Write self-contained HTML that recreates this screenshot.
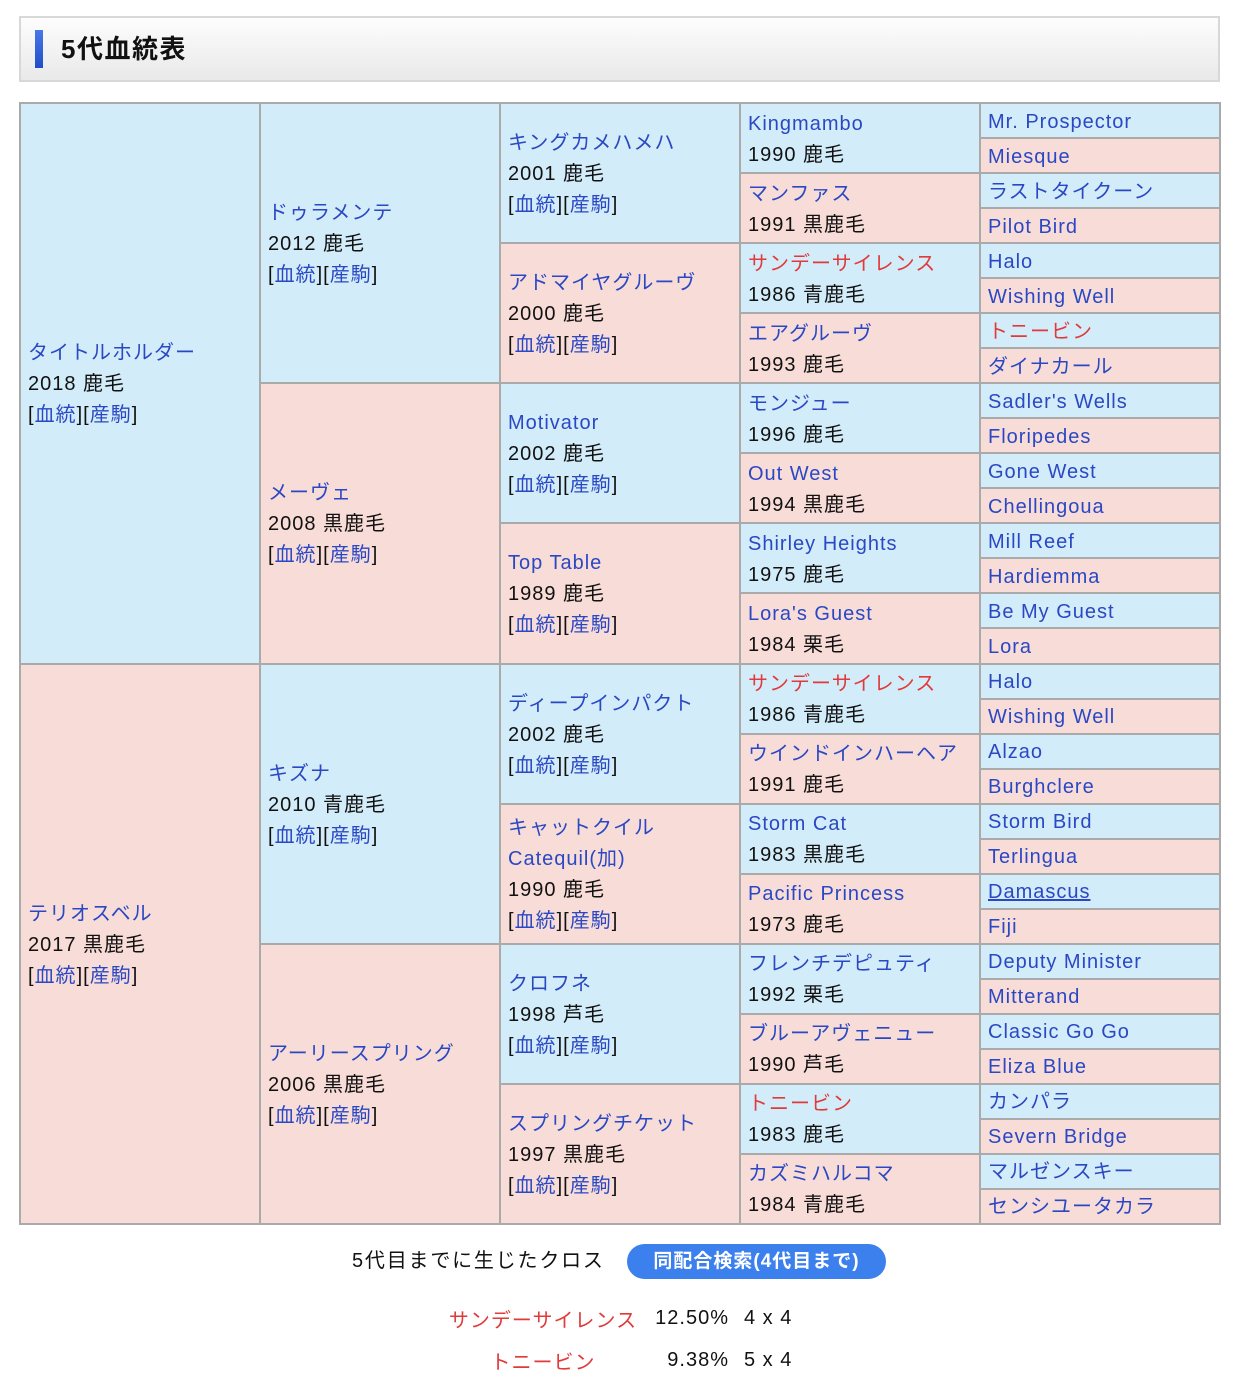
<!DOCTYPE html>
<html><head><meta charset="utf-8">
<style>
*{margin:0;padding:0;box-sizing:border-box}
body{width:1245px;height:1378px;background:#fff;font-family:"Liberation Sans","Noto Sans CJK JP",sans-serif;color:#111;position:relative;overflow:hidden;letter-spacing:1px}
.hd{position:absolute;left:19px;top:16px;width:1201px;height:66px;border:2px solid #d8d8d8;background:linear-gradient(#fdfdfd,#e9e9e9)}
.hd .bar{position:absolute;left:14px;top:12px;width:8px;height:38px;background:linear-gradient(#4a78e8,#1f4fc8)}
.hd .t{position:absolute;left:40px;top:15px;font-size:26px;font-weight:bold;color:#111;line-height:32px;letter-spacing:1.5px}
.g{position:absolute;left:19px;top:102px;width:1202px;height:1123px;background:#aaa;padding:2px;display:grid;gap:2px;grid-template-columns:repeat(5,1fr);grid-template-rows:repeat(32,1fr)}
.g>div{display:flex;flex-direction:column;justify-content:center;padding-left:7px;padding-top:3px;font-size:20px;line-height:31px;white-space:nowrap;overflow:hidden}
.b{background:#d3ecf9}.p{background:#f8dcd7}
.n{color:#2a48c4}.r{color:#e03a3a}
.l{color:#2a48c4}
.u{text-decoration:underline}
.cr{position:absolute;left:352px;top:1246px;font-size:20px;line-height:30px;letter-spacing:1.8px}
.btn{position:absolute;left:627px;top:1244px;width:259px;height:35px;border-radius:18px;background:#3c80ee;color:#fff;font-size:19px;font-weight:bold;text-align:center;line-height:35px}
table.x{position:absolute;left:440px;top:1297px;border-collapse:collapse;font-size:20px}
table.x td{height:42px;padding:0}
</style></head><body>
<div class="hd"><div class="bar"></div><div class="t">5代血統表</div></div>
<div class="g">
<div class="b" style="grid-column:1;grid-row:1/span 16"><span class="n">タイトルホルダー</span><span>2018 鹿毛</span><span>[<span class="l">血統</span>][<span class="l">産駒</span>]</span></div>
<div class="p" style="grid-column:1;grid-row:17/span 16"><span class="n">テリオスベル</span><span>2017 黒鹿毛</span><span>[<span class="l">血統</span>][<span class="l">産駒</span>]</span></div>

<div class="b" style="grid-column:2;grid-row:1/span 8"><span class="n">ドゥラメンテ</span><span>2012 鹿毛</span><span>[<span class="l">血統</span>][<span class="l">産駒</span>]</span></div>
<div class="p" style="grid-column:2;grid-row:9/span 8"><span class="n">メーヴェ</span><span>2008 黒鹿毛</span><span>[<span class="l">血統</span>][<span class="l">産駒</span>]</span></div>
<div class="b" style="grid-column:2;grid-row:17/span 8"><span class="n">キズナ</span><span>2010 青鹿毛</span><span>[<span class="l">血統</span>][<span class="l">産駒</span>]</span></div>
<div class="p" style="grid-column:2;grid-row:25/span 8"><span class="n">アーリースプリング</span><span>2006 黒鹿毛</span><span>[<span class="l">血統</span>][<span class="l">産駒</span>]</span></div>

<div class="b" style="grid-column:3;grid-row:1/span 4"><span class="n">キングカメハメハ</span><span>2001 鹿毛</span><span>[<span class="l">血統</span>][<span class="l">産駒</span>]</span></div>
<div class="p" style="grid-column:3;grid-row:5/span 4"><span class="n">アドマイヤグルーヴ</span><span>2000 鹿毛</span><span>[<span class="l">血統</span>][<span class="l">産駒</span>]</span></div>
<div class="b" style="grid-column:3;grid-row:9/span 4"><span class="n">Motivator</span><span>2002 鹿毛</span><span>[<span class="l">血統</span>][<span class="l">産駒</span>]</span></div>
<div class="p" style="grid-column:3;grid-row:13/span 4"><span class="n">Top Table</span><span>1989 鹿毛</span><span>[<span class="l">血統</span>][<span class="l">産駒</span>]</span></div>
<div class="b" style="grid-column:3;grid-row:17/span 4"><span class="n">ディープインパクト</span><span>2002 鹿毛</span><span>[<span class="l">血統</span>][<span class="l">産駒</span>]</span></div>
<div class="p" style="grid-column:3;grid-row:21/span 4"><span class="n">キャットクイル</span><span class="l">Catequil(加)</span><span>1990 鹿毛</span><span>[<span class="l">血統</span>][<span class="l">産駒</span>]</span></div>
<div class="b" style="grid-column:3;grid-row:25/span 4"><span class="n">クロフネ</span><span>1998 芦毛</span><span>[<span class="l">血統</span>][<span class="l">産駒</span>]</span></div>
<div class="p" style="grid-column:3;grid-row:29/span 4"><span class="n">スプリングチケット</span><span>1997 黒鹿毛</span><span>[<span class="l">血統</span>][<span class="l">産駒</span>]</span></div>

<div class="b" style="grid-column:4;grid-row:1/span 2"><span class="n">Kingmambo</span><span>1990 鹿毛</span></div>
<div class="p" style="grid-column:4;grid-row:3/span 2"><span class="n">マンファス</span><span>1991 黒鹿毛</span></div>
<div class="b" style="grid-column:4;grid-row:5/span 2"><span class="r">サンデーサイレンス</span><span>1986 青鹿毛</span></div>
<div class="p" style="grid-column:4;grid-row:7/span 2"><span class="n">エアグルーヴ</span><span>1993 鹿毛</span></div>
<div class="b" style="grid-column:4;grid-row:9/span 2"><span class="n">モンジュー</span><span>1996 鹿毛</span></div>
<div class="p" style="grid-column:4;grid-row:11/span 2"><span class="n">Out West</span><span>1994 黒鹿毛</span></div>
<div class="b" style="grid-column:4;grid-row:13/span 2"><span class="n">Shirley Heights</span><span>1975 鹿毛</span></div>
<div class="p" style="grid-column:4;grid-row:15/span 2"><span class="n">Lora's Guest</span><span>1984 栗毛</span></div>
<div class="b" style="grid-column:4;grid-row:17/span 2"><span class="r">サンデーサイレンス</span><span>1986 青鹿毛</span></div>
<div class="p" style="grid-column:4;grid-row:19/span 2"><span class="n">ウインドインハーヘア</span><span>1991 鹿毛</span></div>
<div class="b" style="grid-column:4;grid-row:21/span 2"><span class="n">Storm Cat</span><span>1983 黒鹿毛</span></div>
<div class="p" style="grid-column:4;grid-row:23/span 2"><span class="n">Pacific Princess</span><span>1973 鹿毛</span></div>
<div class="b" style="grid-column:4;grid-row:25/span 2"><span class="n">フレンチデピュティ</span><span>1992 栗毛</span></div>
<div class="p" style="grid-column:4;grid-row:27/span 2"><span class="n">ブルーアヴェニュー</span><span>1990 芦毛</span></div>
<div class="b" style="grid-column:4;grid-row:29/span 2"><span class="r">トニービン</span><span>1983 鹿毛</span></div>
<div class="p" style="grid-column:4;grid-row:31/span 2"><span class="n">カズミハルコマ</span><span>1984 青鹿毛</span></div>

<div class="b n" style="grid-column:5;grid-row:1">Mr. Prospector</div>
<div class="p n" style="grid-column:5;grid-row:2">Miesque</div>
<div class="b n" style="grid-column:5;grid-row:3">ラストタイクーン</div>
<div class="p n" style="grid-column:5;grid-row:4">Pilot Bird</div>
<div class="b n" style="grid-column:5;grid-row:5">Halo</div>
<div class="p n" style="grid-column:5;grid-row:6">Wishing Well</div>
<div class="b r" style="grid-column:5;grid-row:7">トニービン</div>
<div class="p n" style="grid-column:5;grid-row:8">ダイナカール</div>
<div class="b n" style="grid-column:5;grid-row:9">Sadler's Wells</div>
<div class="p n" style="grid-column:5;grid-row:10">Floripedes</div>
<div class="b n" style="grid-column:5;grid-row:11">Gone West</div>
<div class="p n" style="grid-column:5;grid-row:12">Chellingoua</div>
<div class="b n" style="grid-column:5;grid-row:13">Mill Reef</div>
<div class="p n" style="grid-column:5;grid-row:14">Hardiemma</div>
<div class="b n" style="grid-column:5;grid-row:15">Be My Guest</div>
<div class="p n" style="grid-column:5;grid-row:16">Lora</div>
<div class="b n" style="grid-column:5;grid-row:17">Halo</div>
<div class="p n" style="grid-column:5;grid-row:18">Wishing Well</div>
<div class="b n" style="grid-column:5;grid-row:19">Alzao</div>
<div class="p n" style="grid-column:5;grid-row:20">Burghclere</div>
<div class="b n" style="grid-column:5;grid-row:21">Storm Bird</div>
<div class="p n" style="grid-column:5;grid-row:22">Terlingua</div>
<div class="b n" style="grid-column:5;grid-row:23"><span class="u">Damascus</span></div>
<div class="p n" style="grid-column:5;grid-row:24">Fiji</div>
<div class="b n" style="grid-column:5;grid-row:25">Deputy Minister</div>
<div class="p n" style="grid-column:5;grid-row:26">Mitterand</div>
<div class="b n" style="grid-column:5;grid-row:27">Classic Go Go</div>
<div class="p n" style="grid-column:5;grid-row:28">Eliza Blue</div>
<div class="b n" style="grid-column:5;grid-row:29">カンパラ</div>
<div class="p n" style="grid-column:5;grid-row:30">Severn Bridge</div>
<div class="b n" style="grid-column:5;grid-row:31">マルゼンスキー</div>
<div class="p n" style="grid-column:5;grid-row:32">センシユータカラ</div>
</div>
<div class="cr">5代目までに生じたクロス</div>
<div class="btn">同配合検索(4代目まで)</div>
<table class="x">
<tr><td style="width:206px;text-align:center" class="r">サンデーサイレンス</td><td style="width:83px;text-align:right">12.50%</td><td style="padding-left:15px">4 x 4</td></tr>
<tr><td style="text-align:center" class="r">トニービン</td><td style="text-align:right">9.38%</td><td style="padding-left:15px">5 x 4</td></tr>
</table>
</body></html>
